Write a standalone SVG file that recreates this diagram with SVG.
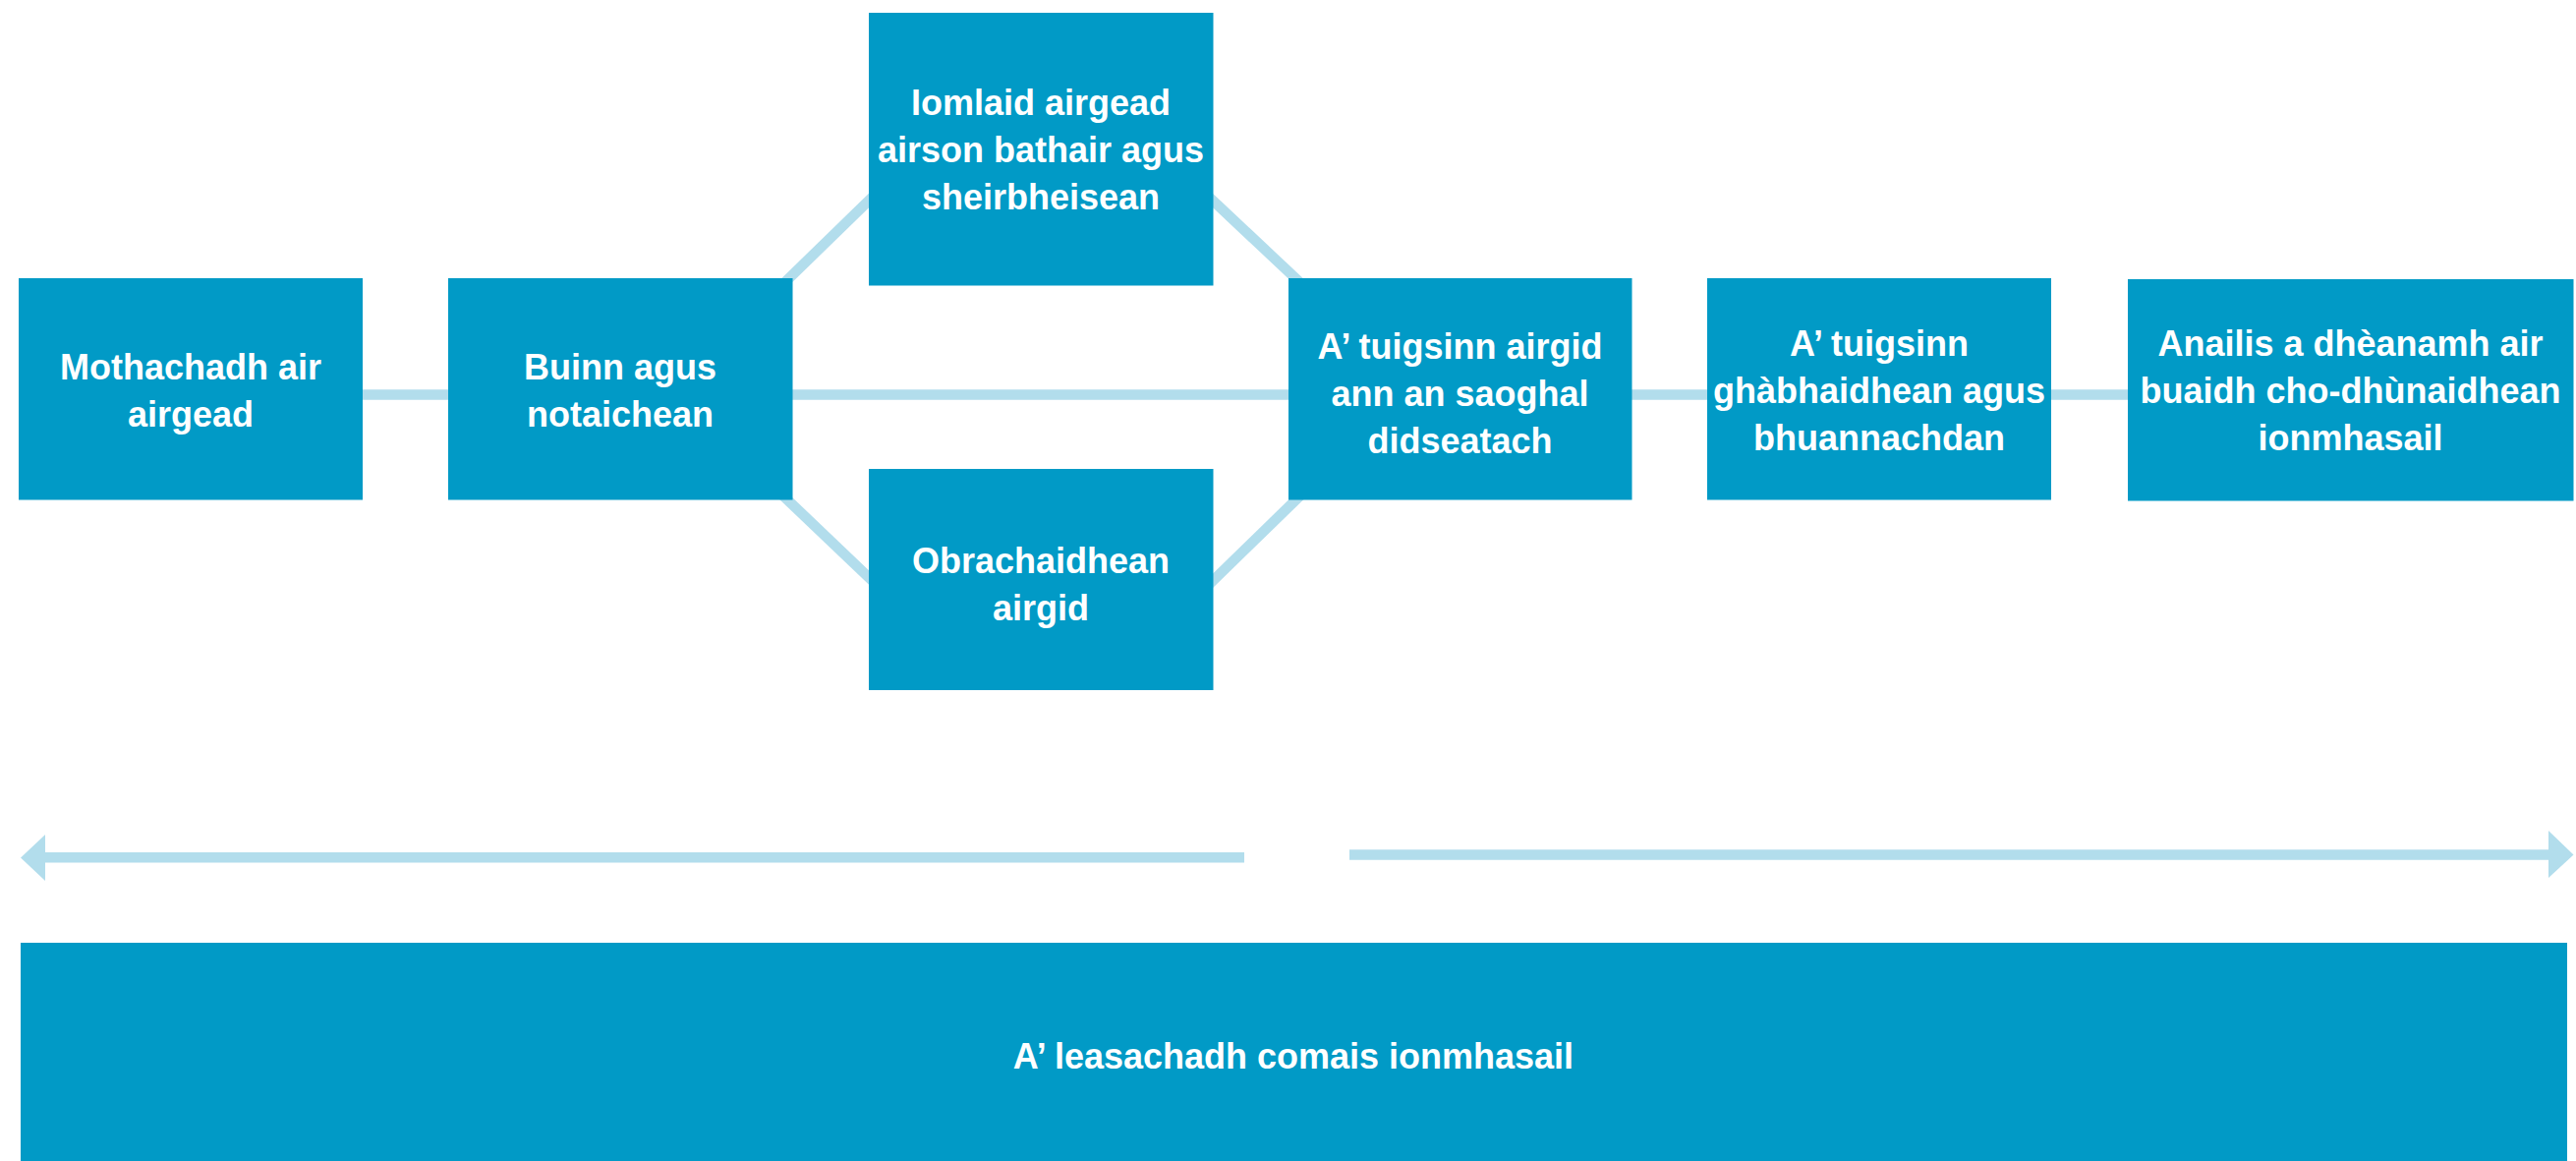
<svg xmlns="http://www.w3.org/2000/svg" width="2621" height="1181" viewBox="0 0 2621 1181">
  <style>
    .box { fill: #019AC6; }
    .lbl { fill: #FFFFFF; font-family: "Liberation Sans", Arial, sans-serif; font-weight: bold; font-size: 36px; text-anchor: middle; }
    .conn { stroke: #B2DDEC; stroke-width: 10.5; fill: none; }
    .head { fill: #B2DDEC; }
  </style>
  <rect x="0" y="0" width="2621" height="1181" fill="#FFFFFF"/>
  <g id="connectors">
    <line class="conn" x1="368" y1="401.5" x2="456" y2="401.5"/>
    <line class="conn" x1="806" y1="401.5" x2="1311" y2="401.5"/>
    <line class="conn" x1="1660" y1="401.5" x2="1737" y2="401.5"/>
    <line class="conn" x1="2087" y1="401.5" x2="2165" y2="401.5"/>
    <line class="conn" x1="770" y1="315" x2="920" y2="169"/>
    <line class="conn" x1="1200" y1="172" x2="1345" y2="308.3"/>
    <line class="conn" x1="770" y1="478.7" x2="920" y2="621.8"/>
    <line class="conn" x1="1200" y1="623.9" x2="1345" y2="482.7"/>
    <line class="conn" x1="44" y1="872.3" x2="1266" y2="872.3"/>
    <polygon class="head" points="21,872.5 46,849 46,896"/>
    <line class="conn" x1="1373" y1="869.6" x2="2595" y2="869.6"/>
    <polygon class="head" points="2618.5,869.5 2593,845 2593,893"/>
  </g>
  <g id="node-mothachadh">
    <rect class="box" x="19" y="283" width="350" height="225.5"/>
    <text class="lbl" x="194" y="386">Mothachadh air</text>
    <text class="lbl" x="194" y="434">airgead</text>
  </g>
  <g id="node-buinn">
    <rect class="box" x="456" y="283" width="350.5" height="225.5"/>
    <text class="lbl" x="631" y="386">Buinn agus</text>
    <text class="lbl" x="631" y="434">notaichean</text>
  </g>
  <g id="node-iomlaid">
    <rect class="box" x="884" y="13" width="350.5" height="277.5"/>
    <text class="lbl" x="1059" y="117">Iomlaid airgead</text>
    <text class="lbl" x="1059" y="165">airson bathair agus</text>
    <text class="lbl" x="1059" y="213">sheirbheisean</text>
  </g>
  <g id="node-obrachaidhean">
    <rect class="box" x="884" y="477" width="350.5" height="225"/>
    <text class="lbl" x="1059" y="583">Obrachaidhean</text>
    <text class="lbl" x="1059" y="631">airgid</text>
  </g>
  <g id="node-digiteach">
    <rect class="box" x="1311" y="283" width="349.5" height="225.5"/>
    <text class="lbl" x="1485.5" y="365">A’ tuigsinn airgid</text>
    <text class="lbl" x="1485.5" y="413">ann an saoghal</text>
    <text class="lbl" x="1485.5" y="461">didseatach</text>
  </g>
  <g id="node-gabhaidhean">
    <rect class="box" x="1737" y="283" width="350" height="225.5"/>
    <text class="lbl" x="1912" y="362">A’ tuigsinn</text>
    <text class="lbl" x="1912" y="410">ghàbhaidhean agus</text>
    <text class="lbl" x="1912" y="458">bhuannachdan</text>
  </g>
  <g id="node-anailis">
    <rect class="box" x="2165" y="284" width="453.5" height="225.5"/>
    <text class="lbl" x="2391.5" y="362">Anailis a dhèanamh air</text>
    <text class="lbl" x="2391.5" y="410">buaidh cho-dhùnaidhean</text>
    <text class="lbl" x="2391.5" y="458">ionmhasail</text>
  </g>
  <g id="node-comais">
    <rect class="box" x="21" y="959" width="2591" height="222"/>
    <text class="lbl" x="1316" y="1087">A’ leasachadh comais ionmhasail</text>
  </g>
</svg>
